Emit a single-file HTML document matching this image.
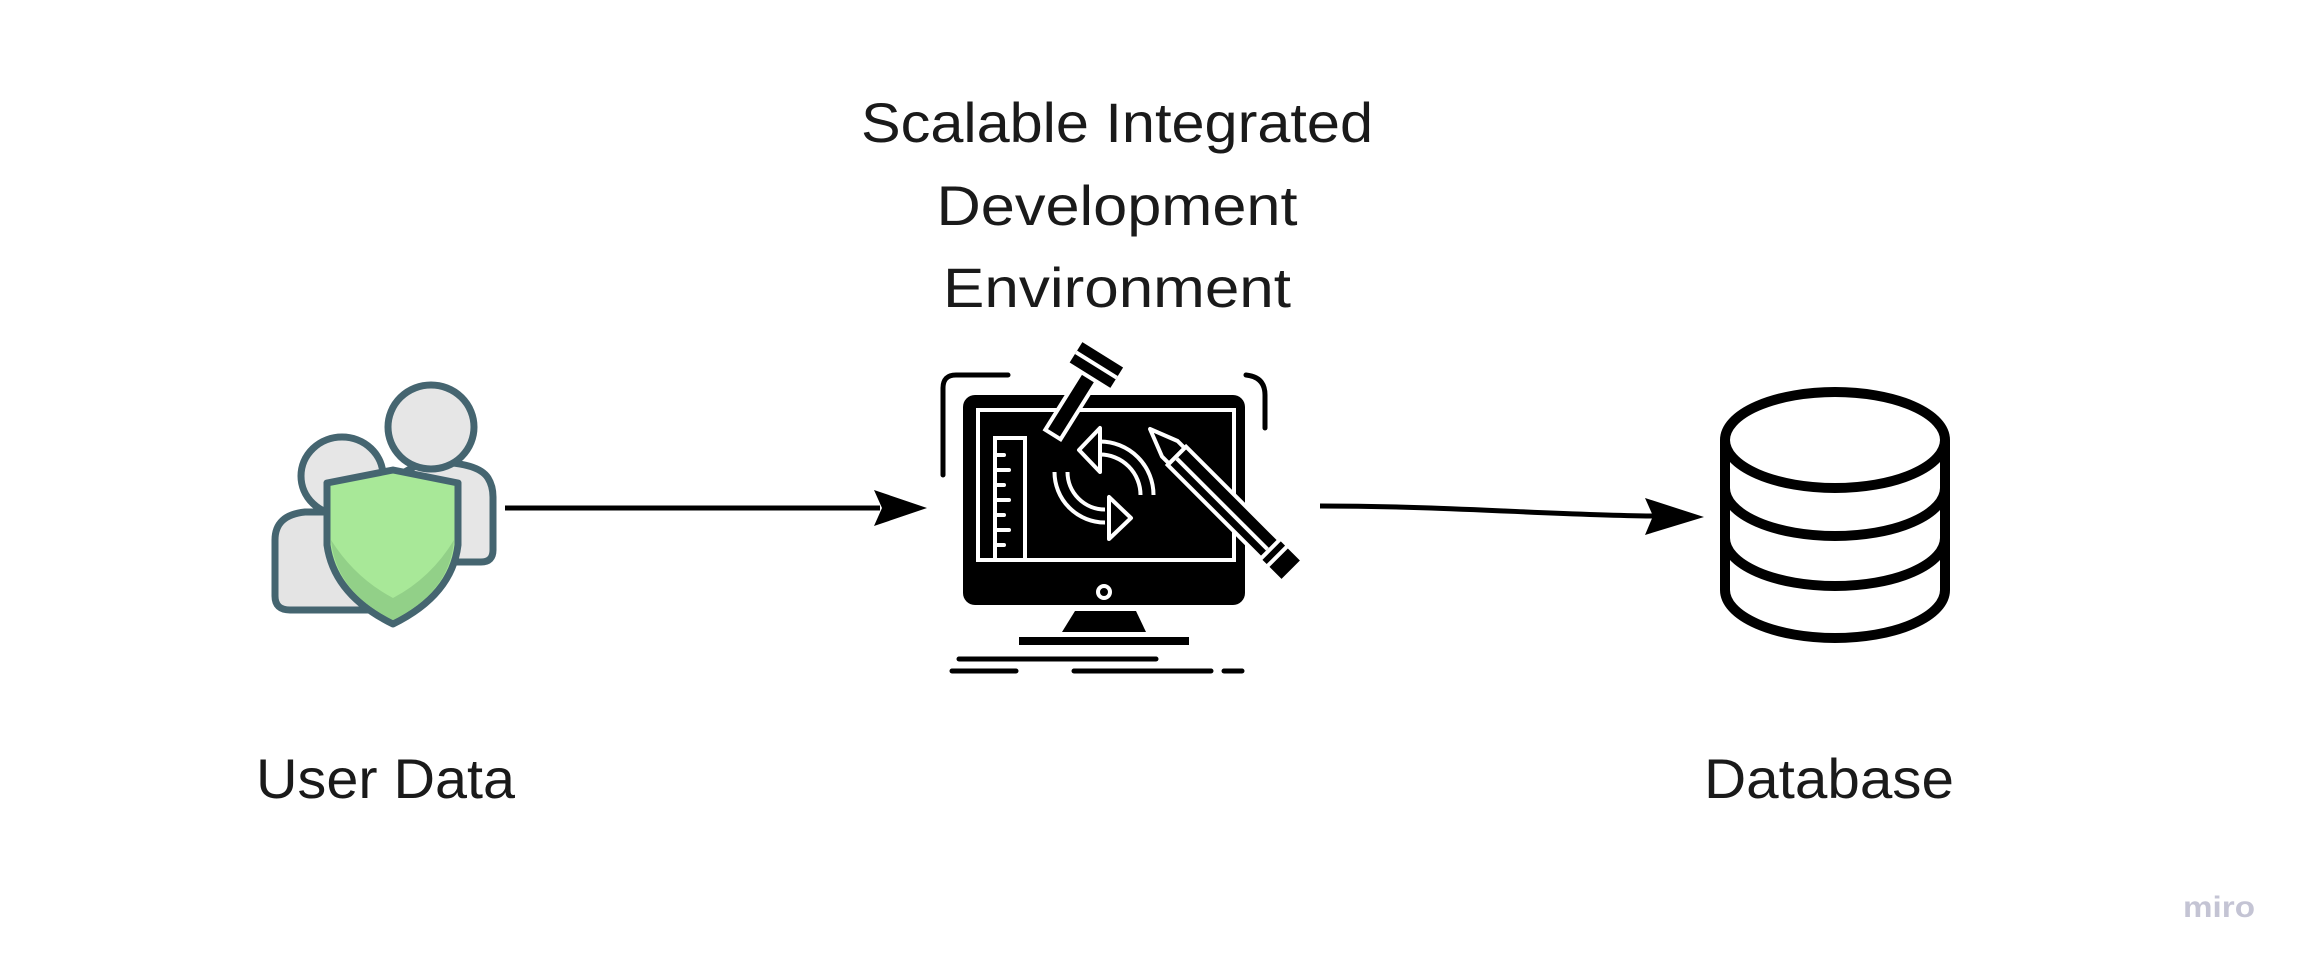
<!DOCTYPE html>
<html><head><meta charset="utf-8"><style>
html,body{margin:0;padding:0;background:#fff;}
svg{display:block;}
text{font-family:"Liberation Sans",sans-serif;fill:#1a1a1a;}
</style></head><body>
<svg width="2311" height="973" viewBox="0 0 2311 973" xmlns="http://www.w3.org/2000/svg">
<!-- Title -->
<text x="1117" y="142" font-size="56" text-anchor="middle" textLength="512" lengthAdjust="spacingAndGlyphs">Scalable Integrated</text>
<text x="1117" y="225" font-size="56" text-anchor="middle" textLength="361" lengthAdjust="spacingAndGlyphs">Development</text>
<text x="1117" y="307" font-size="56" text-anchor="middle" textLength="348" lengthAdjust="spacingAndGlyphs">Environment</text>
<text x="256" y="798" font-size="56" textLength="259" lengthAdjust="spacingAndGlyphs">User Data</text>
<text x="1704" y="798" font-size="56" textLength="250" lengthAdjust="spacingAndGlyphs">Database</text>
<text x="2183" y="917" font-size="30" font-weight="bold" style="fill:#c4c4d4" textLength="72" lengthAdjust="spacingAndGlyphs">miro</text>

<!-- Users icon -->
<g stroke="#456570" stroke-width="7" stroke-linejoin="round">
  <path d="M400,475 Q420,462 431,462 Q478,462 488,478 Q493,486 493,497 L493,550 Q493,562 481,562 L400,562 Z" fill="#e6e6e6"/>
  <ellipse cx="431" cy="427" rx="43" ry="42" fill="#e6e6e6"/>
  <path d="M275,540 Q275,515 305,512 L380,512 L380,610 L290,610 Q275,610 275,596 Z" fill="#e4e4e4"/>
  <ellipse cx="342" cy="476" rx="41" ry="39" fill="#e6e6e6"/>
  <path d="M327,483 L393,470 L458,483 L458,545 Q452,595 393,624 Q334,595 327,545 Z" fill="#a8e898"/>
</g>
<path d="M331,540 Q355,578 393,598 Q431,578 454,540 Q450,592 393,620 Q336,592 331,540Z" fill="#92d088"/>

<!-- Arrow 1 -->
<line x1="505" y1="508" x2="880" y2="508" stroke="#000" stroke-width="5"/>
<path d="M874,490 L927,508 L874,526 L882,508 Z" fill="#000"/>

<!-- Arrow 2 -->
<path d="M1320,506 C1450,506 1550,515 1655,516" fill="none" stroke="#000" stroke-width="5"/>
<path d="M1645,498 L1704,517 L1645,535 L1653,516 Z" fill="#000"/>

<!-- Monitor -->
<g>
  <path d="M943,475 L943,388 Q943,375 956,375 L1008,375" fill="none" stroke="#000" stroke-width="5" stroke-linecap="round"/>
  <path d="M1246,375 Q1265,377 1265,395 L1265,428" fill="none" stroke="#000" stroke-width="5" stroke-linecap="round"/>
  <rect x="963" y="395" width="282" height="210" rx="12" fill="#000"/>
  <rect x="978" y="410" width="256" height="150" fill="none" stroke="#fff" stroke-width="4"/>
  <circle cx="1104" cy="592" r="6" fill="none" stroke="#fff" stroke-width="4"/>
  <path d="M1075,611 L1136,611 L1146,632 L1062,632 Z" fill="#000"/>
  <rect x="1019" y="637" width="170" height="8" fill="#000"/>
  <g stroke="#000" stroke-width="5" stroke-linecap="round">
    <line x1="959" y1="659" x2="1156" y2="659"/>
    <line x1="952" y1="671" x2="1016" y2="671"/>
    <line x1="1074" y1="671" x2="1211" y2="671"/>
    <line x1="1224" y1="671" x2="1242" y2="671"/>
  </g>
  <!-- ruler -->
  <rect x="995" y="438" width="30" height="122" fill="#000" stroke="#fff" stroke-width="4"/>
  <g stroke="#fff" stroke-width="4" stroke-linecap="round">
    <line x1="997" y1="455" x2="1004" y2="455"/><line x1="997" y1="470" x2="1009" y2="470"/>
    <line x1="997" y1="485" x2="1004" y2="485"/><line x1="997" y1="500" x2="1009" y2="500"/>
    <line x1="997" y1="515" x2="1004" y2="515"/><line x1="997" y1="530" x2="1009" y2="530"/>
    <line x1="997" y1="545" x2="1004" y2="545"/>
  </g>
  <!-- refresh arrows -->
  <path d="M1100,448 A47,47 0 0 1 1147,495" fill="none" stroke="#fff" stroke-width="17"/>
  <path d="M1100,448 A47,47 0 0 1 1147,495" fill="none" stroke="#000" stroke-width="9"/>
  <path d="M1061,472 A44,44 0 0 0 1105,516" fill="none" stroke="#fff" stroke-width="17"/>
  <path d="M1061,472 A44,44 0 0 0 1105,516" fill="none" stroke="#000" stroke-width="9"/>
  <rect x="1050" y="460" width="22" height="10" fill="#000"/>
  <rect x="1140" y="497" width="20" height="10" fill="#000"/>
  <path d="M1079,450 L1100,428 L1100,472 Z" fill="#000" stroke="#fff" stroke-width="4" stroke-linejoin="round"/>
  <path d="M1109,497 L1109,539 L1131,518 Z" fill="#000" stroke="#fff" stroke-width="4" stroke-linejoin="round"/>
  <!-- hammer -->
  <g transform="translate(1072,404) rotate(32)">
    <rect x="-9" y="-32" width="18" height="68" fill="#000" stroke="#fff" stroke-width="4"/>
    <rect x="-24" y="-58" width="48" height="24" fill="#000"/>
    <line x1="-24" y1="-46" x2="24" y2="-46" stroke="#fff" stroke-width="4"/>
  </g>
  <!-- pencil -->
  <g transform="translate(1150,429) rotate(-45)">
    <path d="M0,0 L-11,28 L-11,38 L11,38 L11,28 Z" fill="#000" stroke="#fff" stroke-width="4" stroke-linejoin="round"/>
    <rect x="-13" y="38" width="26" height="132" fill="#000" stroke="#fff" stroke-width="4"/>
    <line x1="-2" y1="40" x2="-2" y2="168" stroke="#fff" stroke-width="4"/>
    <rect x="-13" y="172" width="26" height="6" fill="#000"/>
    <rect x="-13" y="182" width="26" height="17" fill="#000"/>
  </g>
</g>

<!-- Database -->
<g fill="none" stroke="#000" stroke-width="10">
  <path d="M1725,440 L1725,590 A110,48 0 0 0 1945,590 L1945,440"/>
  <ellipse cx="1835" cy="440" rx="110" ry="48"/>
  <path d="M1725,488 A110,48 0 0 0 1945,488"/>
  <path d="M1725,538 A110,48 0 0 0 1945,538"/>
</g>
</svg>
</body></html>
